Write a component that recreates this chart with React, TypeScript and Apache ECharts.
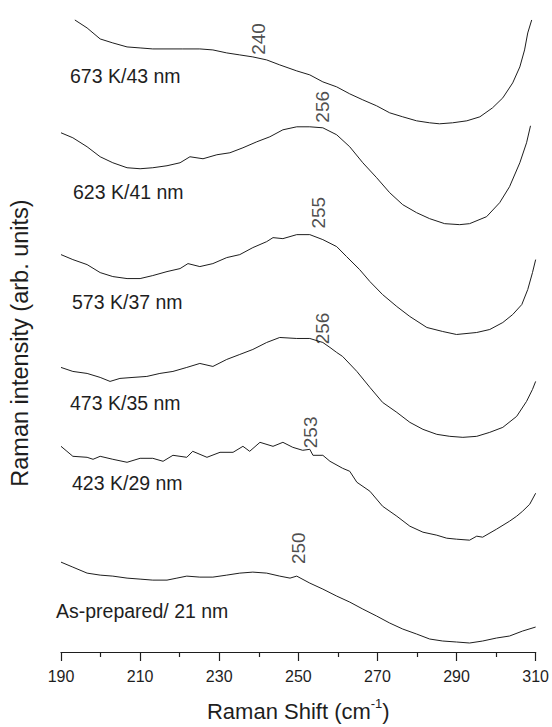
import React, { useEffect, useRef } from "react";
import * as echarts from "echarts";

// Raman shift (cm-1) and intensity (arb. units, stacked offsets) for each sample
const shift673 = [193.5, 196.6, 199.9, 203.1, 206.7, 210.0, 213.2, 216.8, 220.8, 225.1, 228.4, 231.9, 235.2, 238.5, 242.0, 245.3, 249.6, 252.9, 256.2, 259.7, 263.0, 266.3, 269.8, 273.1, 276.4, 279.9, 283.2, 285.7, 289.0, 292.6, 295.9, 299.1, 301.7, 304.2, 306.0, 307.2, 308.0, 309.0];
const int673 = [633, 625, 614, 610, 606, 605, 604, 604, 604, 604, 603, 600, 598, 596, 593, 588, 582, 578, 571, 566, 559, 553, 547, 540, 536, 532, 530, 529, 530, 532, 536, 545, 555, 570, 586, 603, 620, 633];

const shift623 = [190.0, 193.0, 196.6, 199.9, 203.1, 206.7, 210.0, 213.2, 216.8, 220.1, 222.6, 225.9, 229.4, 232.7, 236.0, 239.5, 242.8, 246.1, 249.6, 252.9, 256.2, 259.7, 263.0, 266.3, 269.8, 273.1, 276.4, 279.9, 283.2, 287.0, 290.8, 293.3, 297.6, 300.9, 303.4, 306.0, 307.7, 308.7];
const int623 = [520, 515, 506, 496, 490, 485, 484, 485, 487, 490, 496, 494, 498, 500, 505, 511, 516, 523, 526, 526, 525, 518, 506, 490, 475, 460, 448, 440, 434, 429, 428, 429, 436, 450, 466, 490, 510, 527];

const shift573 = [190.0, 193.0, 196.6, 199.9, 203.1, 206.7, 210.0, 213.2, 216.8, 220.1, 222.1, 225.1, 228.4, 231.9, 235.2, 238.5, 242.0, 243.6, 246.1, 249.6, 252.9, 256.2, 259.7, 262.2, 265.5, 268.1, 271.3, 274.9, 278.2, 282.5, 286.5, 290.0, 295.1, 298.4, 301.7, 304.2, 306.5, 308.0, 309.2, 310.0];
const int573 = [398, 393, 388, 380, 376, 374, 374, 377, 381, 384, 389, 386, 389, 395, 398, 405, 411, 415, 414, 418, 418, 413, 406, 396, 383, 371, 358, 346, 336, 325, 321, 318, 320, 323, 330, 338, 348, 363, 380, 393];

const shift473 = [190.0, 193.0, 196.6, 199.9, 202.4, 204.9, 208.2, 211.7, 215.0, 218.3, 221.8, 225.1, 228.4, 231.9, 235.2, 238.5, 242.0, 245.3, 249.6, 252.9, 256.2, 258.0, 259.7, 261.2, 264.8, 268.1, 271.3, 274.9, 278.2, 281.5, 285.0, 288.3, 291.6, 295.1, 298.4, 301.7, 305.2, 307.7, 309.2, 310.0];
const int473 = [285, 281, 279, 275, 271, 274, 275, 276, 279, 281, 285, 289, 286, 293, 298, 303, 310, 315, 314, 314, 310, 305, 300, 296, 281, 265, 250, 240, 230, 223, 218, 216, 215, 216, 220, 225, 236, 251, 263, 271];

const shift423 = [190.0, 191.5, 193.0, 196.6, 198.1, 199.9, 203.1, 206.7, 210.0, 213.2, 215.8, 218.3, 221.8, 223.3, 226.9, 230.2, 233.5, 236.0, 237.7, 240.3, 243.6, 246.1, 248.6, 251.1, 252.9, 253.7, 256.2, 258.0, 261.2, 263.0, 264.8, 268.1, 271.3, 274.9, 278.2, 281.5, 285.0, 287.5, 290.0, 293.3, 295.1, 296.6, 300.1, 303.4, 305.2, 306.7, 308.5, 310.0];
const int423 = [206, 201, 196, 195, 193, 196, 193, 190, 194, 194, 191, 197, 195, 201, 195, 200, 200, 206, 201, 210, 206, 210, 205, 202, 203, 197, 197, 191, 184, 181, 170, 161, 146, 136, 126, 120, 117, 114, 113, 112, 116, 115, 123, 131, 136, 141, 148, 159];

const shiftAsPrep = [190.0, 193.0, 196.6, 199.9, 203.1, 206.7, 210.0, 213.2, 216.8, 219.3, 221.8, 225.1, 228.4, 231.9, 235.2, 238.5, 242.0, 245.3, 247.9, 249.6, 252.9, 256.2, 259.7, 263.0, 266.3, 269.8, 273.1, 276.4, 279.9, 283.2, 286.5, 290.0, 293.3, 296.6, 300.1, 303.4, 306.7, 310.0];
const intAsPrep = [90, 85, 79, 77, 76, 74, 73, 72, 72, 74, 76, 75, 75, 77, 79, 80, 79, 76, 74, 76, 69, 63, 56, 50, 43, 36, 29, 23, 18, 13, 11, 10, 9, 11, 14, 16, 21, 25];

// Sample names (annealing temperature / crystallite size)
const sampleNames = ["673 K/43 nm", "623 K/41 nm", "573 K/37 nm", "473 K/35 nm", "423 K/29 nm", "As-prepared/ 21 nm"];

// Peak positions (cm-1) and the intensity level at which each is annotated
const peakShifts = [240, 256, 255, 256, 253, 250];
const peakLabelLevels = [618, 553, 441, 334, 231, 117];

// X-axis range and ticks
const xMin = 190;
const xMax = 310;
const xStep = 20;

const curves = [
  { shift: shift673, intensity: int673 },
  { shift: shift623, intensity: int623 },
  { shift: shift573, intensity: int573 },
  { shift: shift473, intensity: int473 },
  { shift: shift423, intensity: int423 },
  { shift: shiftAsPrep, intensity: intAsPrep },
];

const FONT = '"Liberation Sans", Arial, Helvetica, sans-serif';
const INK = "#1e1e1e";

// Placement of sample name captions (pixels)
const nameX = [70, 73, 72, 70, 72, 56];
const nameY = [76, 192, 302, 403, 483, 611];
// Horizontal nudge of each peak annotation relative to its peak position
const peakLabelDx = [-4, -7, -1, -10, -11, -13];

export default function App() {
  const ref = useRef<HTMLDivElement>(null);

  useEffect(() => {
    if (!ref.current) return;
    const chart = echarts.init(ref.current, null, { renderer: "svg" });

    const lineSeries = curves.map((c, i) => ({
      type: "line",
      name: sampleNames[i],
      data: c.shift.map((x, k) => [x, c.intensity[k]]),
      showSymbol: false,
      symbol: "none",
      lineStyle: { color: INK, width: 1 },
      itemStyle: { color: INK },
      silent: true,
      z: 2,
    }));

    const peakSeries = {
      type: "scatter",
      symbolSize: 0,
      silent: true,
      data: peakShifts.map((p, i) => ({
        value: [p, peakLabelLevels[i]],
        label: { offset: [peakLabelDx[i], 0] },
      })),
      label: {
        show: true,
        position: "inside",
        rotate: 90,
        formatter: (prm: any) => String(prm.value[0]),
        fontFamily: FONT,
        fontSize: 19,
        color: INK,
      },
      z: 3,
    };

    const captions = sampleNames.map((t, i) => ({
      type: "text",
      x: nameX[i],
      y: nameY[i],
      silent: true,
      style: {
        text: t,
        font: `19.5px ${FONT}`,
        fill: INK,
        textAlign: "left",
        textVerticalAlign: "middle",
      },
    }));

    chart.setOption({
      animation: false,
      backgroundColor: "#ffffff",
      grid: { left: 61, right: 16, top: 0, bottom: 74 },
      xAxis: {
        type: "value",
        min: xMin,
        max: xMax,
        interval: xStep,
        name: "{t|Raman Shift (cm}{s|-1}{t|)}",
        nameLocation: "middle",
        nameGap: 45,
        nameTextStyle: {
          rich: {
            t: { fontFamily: FONT, fontSize: 22, color: INK, lineHeight: 25, verticalAlign: "bottom" },
            s: { fontFamily: FONT, fontSize: 13, color: INK, lineHeight: 25, verticalAlign: "top" },
          },
        },
        axisLine: { show: true, lineStyle: { color: INK, width: 1.2 } },
        axisTick: { show: true, inside: false, length: 9, lineStyle: { color: INK, width: 1.2 } },
        minorTick: { show: true, splitNumber: 2, length: 5, lineStyle: { color: INK, width: 1.2 } },
        axisLabel: { fontFamily: FONT, fontSize: 16, color: INK, margin: 16 },
        splitLine: { show: false },
        minorSplitLine: { show: false },
      },
      yAxis: {
        type: "value",
        min: 0,
        max: 653,
        show: false,
      },
      graphic: [
        ...captions,
        {
          type: "text",
          x: 20,
          y: 343,
          rotation: Math.PI / 2,
          silent: true,
          style: {
            text: "Raman intensity (arb. units)",
            font: `23.5px ${FONT}`,
            fill: INK,
            textAlign: "center",
            textVerticalAlign: "middle",
          },
        },
      ],
      series: [...lineSeries, peakSeries],
    });

    return () => chart.dispose();
  }, []);

  return (
    <div
      ref={ref}
      style={{ position: "fixed", left: 0, top: 0, width: 552, height: 727, background: "#fff" }}
    />
  );
}
